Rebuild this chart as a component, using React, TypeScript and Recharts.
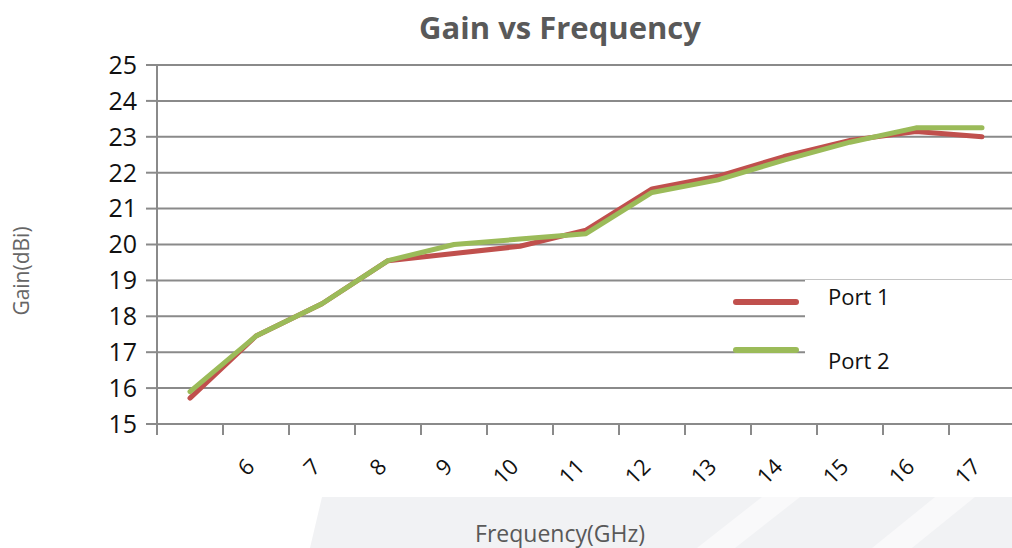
import React from 'react';
import {
  LineChart,
  Line,
  XAxis,
  YAxis,
  CartesianGrid,
} from 'recharts';

const categories = ['', '6', '7', '8', '9', '10', '11', '12', '13', '14', '15', '16', '17'];
const port1 = [15.72, 17.45, 18.35, 19.55, 19.75, 19.95, 20.4, 21.55, 21.9, 22.45, 22.9, 23.15, 23.0];
const port2 = [15.9, 17.45, 18.35, 19.55, 20.0, 20.15, 20.3, 21.45, 21.8, 22.35, 22.85, 23.25, 23.25];
const yTicks = [15, 16, 17, 18, 19, 20, 21, 22, 23, 24, 25];
const seriesNames = ['Port 1', 'Port 2'];

const CHART_W = 1016;
const CHART_H = 548;
const Y_AXIS_W = 157;
const BAND = (CHART_W - Y_AXIS_W - 1) / categories.length;

const data = categories.map((c, i) => ({ freq: c, port1: port1[i], port2: port2[i] }));

const RED = '#C0504D';
const GREEN = '#9BBB59';
const colors = [RED, GREEN];
const FONT = '"Open Sans", "DejaVu Sans", sans-serif';
const AXIS_GREY = '#8a8a8a';

function FreqTick(props: any) {
  const { x, y, payload, index } = props;
  const last = index === categories.length - 1;
  return (
    <g>
      <line x1={x - BAND / 2} x2={x - BAND / 2} y1={y} y2={y + 11} stroke={AXIS_GREY} strokeWidth={2} />
      {last && <line x1={x + BAND / 2} x2={x + BAND / 2} y1={y} y2={y + 11} stroke={AXIS_GREY} strokeWidth={2} />}
      <text
        x={x}
        y={y + 44}
        textAnchor="end"
        transform={`rotate(-45 ${x} ${y + 44})`}
        fontSize={22}
        fontFamily={FONT}
        fill="#111"
      >
        {payload.value}
      </text>
    </g>
  );
}

// legend sits inside the plot, on a white box that hides the gridlines
function PortLegend() {
  return (
    <div style={{ position: 'absolute', left: 733, top: 280, width: 280, height: 106, fontFamily: FONT }}>
      <div style={{ position: 'absolute', left: 72, top: 0, width: 208, height: 106, background: '#fff' }} />
      {seriesNames.map((name, i) => (
        <React.Fragment key={name}>
          <div
            style={{
              position: 'absolute',
              left: 0,
              top: i === 0 ? 19 : 67,
              width: 66,
              height: 6,
              borderRadius: 3,
              background: colors[i],
            }}
          />
          <div
            style={{
              position: 'absolute',
              left: 95,
              top: i === 0 ? 1 : 65,
              fontSize: 22,
              lineHeight: '30px',
              color: '#111',
              whiteSpace: 'pre',
            }}
          >
            {name}
          </div>
        </React.Fragment>
      ))}
    </div>
  );
}

export default function App() {
  return (
    <div style={{ position: 'relative', width: 1012, height: 548, overflow: 'hidden', background: '#fff' }}>
      <style>{'body{margin:0}'}</style>
      <svg width={1012} height={548} style={{ position: 'absolute', left: 0, top: 0 }}>
        <polygon points="322,497 1012,497 1012,548 310,548" fill="#f1f2f4" />
        <polygon points="762,497 800,497 735,548 697,548" fill="#f9f9fa" />
        <polygon points="935,497 975,497 912,548 872,548" fill="#f9f9fa" />
      </svg>
      <div
        style={{
          position: 'absolute',
          left: 0,
          width: 1120,
          top: 8,
          textAlign: 'center',
          fontFamily: FONT,
          fontWeight: 700,
          fontSize: 31,
          lineHeight: '38px',
          color: '#595959',
        }}
      >
        Gain vs Frequency
      </div>
      <div
        style={{
          position: 'absolute',
          left: 0,
          width: 1120,
          top: 518,
          textAlign: 'center',
          fontFamily: FONT,
          fontSize: 23,
          lineHeight: '30px',
          color: '#595959',
        }}
      >
        Frequency(GHz)
      </div>
      <div
        style={{
          position: 'absolute',
          left: 21,
          top: 271,
          transform: 'translate(-50%, -50%) rotate(-90deg)',
          fontFamily: FONT,
          fontSize: 21,
          color: '#666',
          whiteSpace: 'nowrap',
        }}
      >
        Gain(dBi)
      </div>
      <div style={{ position: 'absolute', left: 0, top: 0 }}>
        <LineChart width={CHART_W} height={CHART_H} data={data} margin={{ top: 65, right: 1, bottom: 0, left: 0 }}>
          <CartesianGrid horizontal vertical={false} stroke={AXIS_GREY} strokeWidth={2} />
          <XAxis
            dataKey="freq"
            scale="point"
            padding={{ left: BAND / 2, right: BAND / 2 }}
            height={124}
            tickSize={0}
            tickMargin={0}
            tickLine={false}
            axisLine={{ stroke: AXIS_GREY, strokeWidth: 2 }}
            tick={<FreqTick />}
            interval={0}
          />
          <YAxis
            width={Y_AXIS_W}
            domain={[15, 25]}
            ticks={yTicks}
            interval={0}
            tickSize={11}
            tickMargin={9}
            tickLine={{ stroke: AXIS_GREY, strokeWidth: 2 }}
            axisLine={{ stroke: AXIS_GREY, strokeWidth: 2 }}
            tick={{ fontSize: 25, fontFamily: FONT, fill: '#111' }}
          />
          <Line
            type="linear"
            dataKey="port1"
            name={seriesNames[0]}
            stroke={RED}
            strokeWidth={5}
            strokeLinecap="round"
            strokeLinejoin="round"
            dot={false}
            activeDot={false}
            isAnimationActive={false}
          />
          <Line
            type="linear"
            dataKey="port2"
            name={seriesNames[1]}
            stroke={GREEN}
            strokeWidth={5}
            strokeLinecap="round"
            strokeLinejoin="round"
            dot={false}
            activeDot={false}
            isAnimationActive={false}
          />
        </LineChart>
      </div>
      <PortLegend />
    </div>
  );
}
